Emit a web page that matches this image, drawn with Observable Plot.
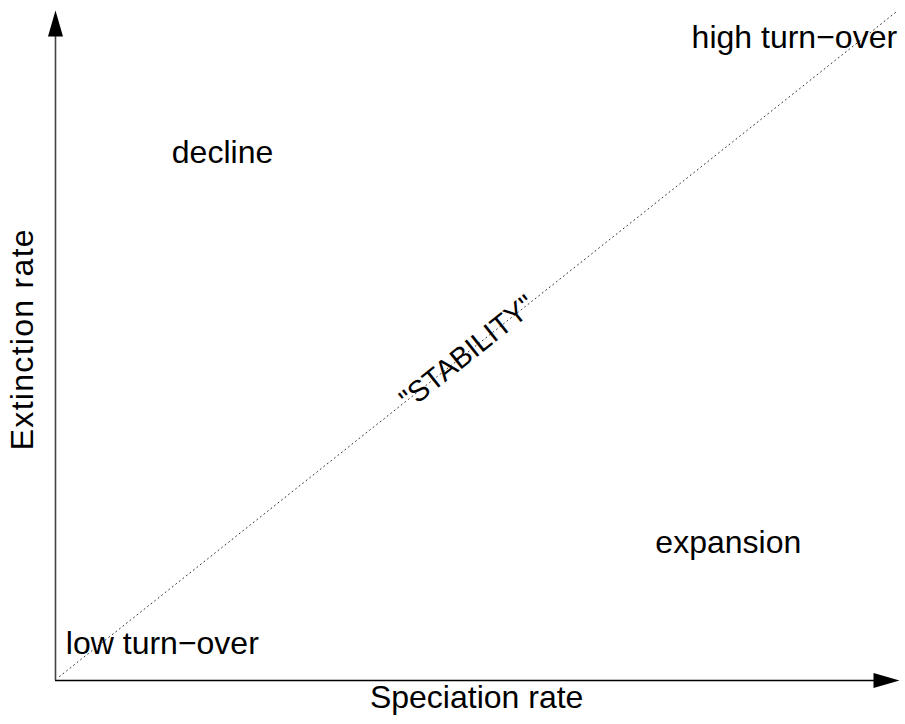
<!DOCTYPE html>
<html>
<head>
<meta charset="utf-8">
<script src="https://cdn.jsdelivr.net/npm/d3@7"></script>
<script src="https://cdn.jsdelivr.net/npm/@observablehq/plot@0.6"></script>
<style>
  html, body { margin: 0; padding: 0; background: #fff; }
  #chart svg { display: block; }
</style>
</head>
<body>
<div id="chart"></div>
<script>
// Region labels (speciation rate on x, extinction rate on y, both 0..1)
const regionLabels = ["decline", "high turn\u2212over", "low turn\u2212over", "expansion"];
const regionX = [0.195, 0.879, 0.123, 0.800];
const regionY = [0.789, 0.962, 0.050, 0.201];

// Diagonal of equal speciation and extinction
const diagX = [0, 1];
const diagY = [0, 1];
const diagLabel = "\"STABILITY\"";
const diagLabelPos = [0.488, 0.488];

// Axis titles
const xTitle = "Speciation rate";
const yTitle = "Extinction rate";

// Axis extents (origin and arrow tips)
const axisOrigin = [-0.0048, -0.006];
const axisTipX = 1.0048;
const axisTipY = 1.003;

const W = 905, H = 724;
const margin = {left: 59, right: 10, top: 12, bottom: 48};
const angle = -Math.atan2(H - margin.top - margin.bottom, W - margin.left - margin.right) * 180 / Math.PI;

const regions = regionLabels.map((t, i) => ({t, x: regionX[i], y: regionY[i]}));
const diag = diagX.map((x, i) => ({x, y: diagY[i]}));

const arrowHead = {
  draw(ctx) {
    ctx.moveTo(0, 0);
    ctx.lineTo(7.5, 26);
    ctx.lineTo(-7.5, 26);
    ctx.closePath();
  }
};

const font = "'Liberation Sans', Arial, Helvetica, sans-serif";

const chart = Plot.plot({
  width: W,
  height: H,
  marginLeft: margin.left,
  marginRight: margin.right,
  marginTop: margin.top,
  marginBottom: margin.bottom,
  x: {domain: [0, 1], axis: null},
  y: {domain: [0, 1], axis: null},
  style: {fontFamily: font, fontSize: "32px", background: "#fff", overflow: "visible"},
  marks: [
    Plot.line(diag, {x: "x", y: "y", stroke: "#333", strokeWidth: 1, strokeDasharray: "1,3.5"}),
    // axes
    Plot.ruleY([axisOrigin[1]], {x1: axisOrigin[0], x2: axisTipX - 0.02, stroke: "#000", strokeWidth: 1.3}),
    Plot.ruleX([axisOrigin[0]], {y1: axisOrigin[1], y2: axisTipY - 0.03, stroke: "#444", strokeWidth: 1.6}),
    Plot.dot([{x: axisTipX, y: axisOrigin[1]}], {x: "x", y: "y", symbol: arrowHead, fill: "#000", stroke: null, rotate: 90, r: 5}),
    Plot.dot([{x: axisOrigin[0], y: axisTipY}], {x: "x", y: "y", symbol: arrowHead, fill: "#000", stroke: null, rotate: 0, r: 5}),
    // region labels
    Plot.text(regions, {x: "x", y: "y", text: "t", fill: "#000", fontSize: 32, textAnchor: "middle"}),
    Plot.text([diagLabel], {x: () => diagLabelPos[0], y: () => diagLabelPos[1], text: d => d, rotate: angle, fill: "#000", fontSize: 29, textAnchor: "middle"}),
    // axis titles
    Plot.text([xTitle], {x: () => 0.499, y: () => -0.032, text: d => d, fill: "#000", fontSize: 32, textAnchor: "middle"}),
    Plot.text([yTitle], {x: () => -0.044, y: () => 0.508, text: d => d, rotate: -90, fill: "#000", fontSize: 32, textAnchor: "middle", className: "ytitle"})
  ]
});

d3.select(chart).selectAll(".ytitle text").style("letter-spacing", "1.3px");
document.getElementById("chart").appendChild(chart);
</script>
</body>
</html>
